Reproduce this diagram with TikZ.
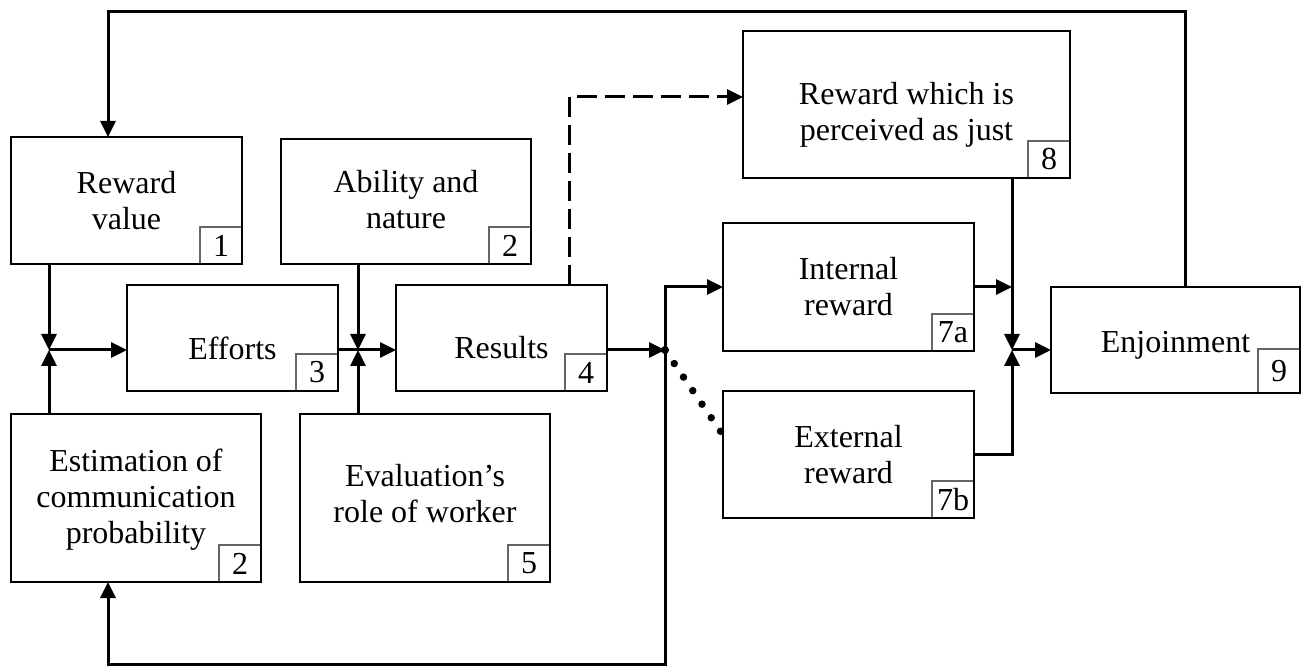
\documentclass[tikz,border=0pt]{standalone}
\usepackage{fontspec}
\setmainfont{Liberation Serif}
\usetikzlibrary{arrows.meta,backgrounds}
\begin{document}
\begin{tikzpicture}[x=1pt,y=-1pt,
  box/.style={draw, line width=2.6pt, rectangle, inner sep=0pt, outer sep=0pt},
  num/.style={draw=black!60, line width=1.3pt, rectangle, inner sep=0pt, outer sep=0pt,
    minimum width=42pt, minimum height=37pt, anchor=south east,
    font=\fontsize{32}{36}\selectfont},
  txt/.style={align=center, inner sep=0pt, font=\fontsize{32}{36}\selectfont},
  link/.style={line width=3pt},
  arr/.style={link, -{Triangle[length=16pt,width=15pt]}},
  dashlink/.style={arr, dash pattern=on 20pt off 8pt},
  dotlink/.style={line width=7.5pt, line cap=round, dash pattern=on 0pt off 16.4pt}]
\useasboundingbox (0,0) rectangle (1307,668);

% blocks
\node[box, minimum width=231pt, minimum height=127pt] (b1)  at (126.5,200.5) {};
\node[box, minimum width=250pt, minimum height=125pt] (b2)  at (406,201.5) {};
\node[box, minimum width=211pt, minimum height=106pt] (b3)  at (232.5,338) {};
\node[box, minimum width=211pt, minimum height=106pt] (b4)  at (501.5,338) {};
\node[box, minimum width=250pt, minimum height=168pt] (b2e) at (136,498) {};
\node[box, minimum width=250pt, minimum height=168pt] (b5)  at (425,498) {};
\node[box, minimum width=327pt, minimum height=147pt] (b8)  at (906.5,104.5) {};
\node[box, minimum width=251pt, minimum height=128pt] (b7a) at (848.5,287) {};
\node[box, minimum width=251pt, minimum height=127pt] (b7b) at (848.5,454.5) {};
\node[box, minimum width=249pt, minimum height=106pt] (b9)  at (1175.5,340) {};

% block captions
\node[txt] (t1)  at (b1.center) {Reward\\value};
\node[txt] (t2)  at ([yshift=2pt]b2.center) {Ability and\\nature};
\node[txt] (t3)  at ([yshift=-10pt]b3.center) {Efforts};
\node[txt] (t4)  at ([yshift=-10pt]b4.center) {Results};
\node[txt] (t2e) at ([yshift=-2pt]b2e.center) {Estimation of\\communication\\probability};
\node[txt] (t5)  at ([yshift=4pt]b5.center) {Evaluation’s\\role of worker};
\node[txt] (t8)  at ([yshift=-10pt]b8.center) {Reward which is\\perceived as just};
\node[txt] (t7a) at (b7a.center) {Internal\\reward};
\node[txt] (t7b) at (b7b.center) {External\\reward};
\node[txt] (t9)  at ([yshift=-5pt]b9.center) {Enjoinment};

% number tags in the lower right corners
\begin{scope}[on background layer]
\node[num] (n1)  at (b1.south east) {1};
\node[num] (n2)  at (b2.south east) {2};
\node[num] (n3)  at (b3.south east) {3};
\node[num] (n4)  at (b4.south east) {4};
\node[num] (n2e) at (b2e.south east) {2};
\node[num] (n5)  at (b5.south east) {5};
\node[num] (n8)  at (b8.south east) {8};
\node[num] (n7a) at (b7a.south east) {7a};
\node[num] (n7b) at (b7b.south east) {7b};
\node[num, minimum height=44pt] (n9) at (b9.south east) {9};
\end{scope}

% routing points
\coordinate (j1) at (49,350);
\coordinate (j2) at (358,350);
\coordinate (j3) at (1012,350);
\coordinate (d)  at (665,350);
\coordinate (topR) at (1185,12);
\coordinate (topL) at (108,12);
\coordinate (bot) at (665,664);
\coordinate (dz) at (569,97);
\coordinate (e7b) at (721,432);

% feedback from enjoinment to reward value
\draw[arr] (topR |- b9.north) -- (topR) -- (topL) -- (topL |- b1.north);

% inputs to efforts
\draw[arr] (j1 |- b1.south) -- (j1);
\draw[arr] (j1 |- b2e.north) -- (j1);
\draw[arr] (j1) -- (j1 -| b3.west);

% inputs to results
\draw[link] (b3.east |- j2) -- (j2);
\draw[arr] (j2 |- b2.south) -- (j2);
\draw[arr] (j2 |- b5.north) -- (j2);
\draw[arr] (j2) -- (j2 -| b4.west);

% results to perceived just reward
\draw[dashlink] (dz |- b4.north) -- (dz) -- (dz -| b8.west);

% results to rewards
\draw[arr] (b4.east |- d) -- (d);
\fill (d) circle (4pt);
\draw[arr] (d) -- (d |- b7a.west) -- (b7a.west);
\draw[dotlink] (d) -- (e7b);
\draw[arr] (d) -- (bot) -- (bot -| topL) -- (topL |- b2e.south);

% rewards to enjoinment
\draw[arr] (b7a.east) -- (b7a.east -| j3);
\draw[arr] (j3 |- b8.south) -- (j3);
\draw[arr] (b7b.east) -- (b7b.east -| j3) -- (j3);
\draw[arr] (j3) -- (j3 -| b9.west);
\end{tikzpicture}
\end{document}
